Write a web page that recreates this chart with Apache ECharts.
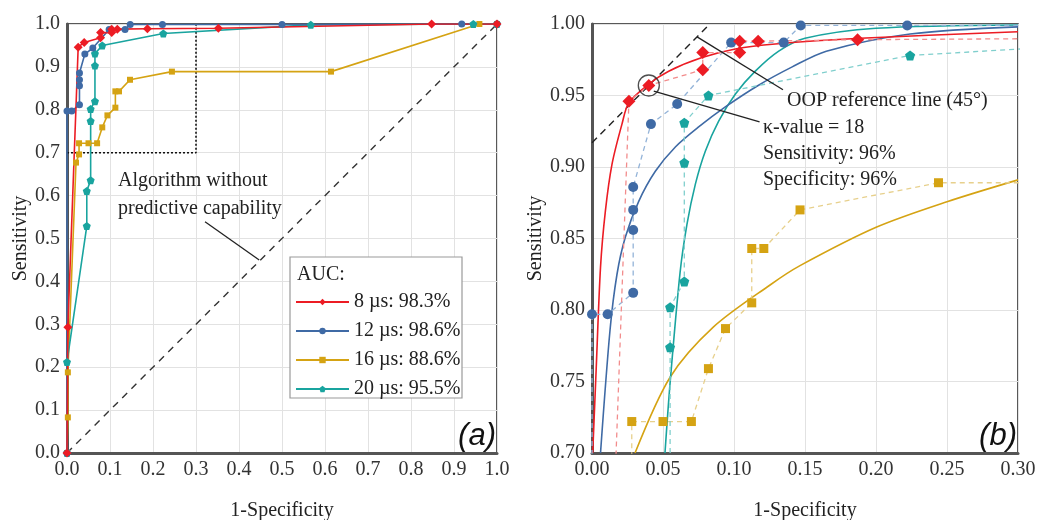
<!DOCTYPE html>
<html>
<head>
<meta charset="utf-8">
<script src="https://cdn.jsdelivr.net/npm/echarts@6/dist/echarts.min.js"></script>
<style>
html, body { margin: 0; padding: 0; background: #fff; }
#main { width: 1038px; height: 520px; }
</style>
</head>
<body>
<div id="main"></div>
<script>
// ROC points: [1-specificity, sensitivity]
const names = ['8 µs: 98.3%', '12 µs: 98.6%', '16 µs: 88.6%', '20 µs: 95.5%'];
const roc8 = [[0, 0], [0.002, 0.293], [0.026, 0.946], [0.040, 0.957], [0.078, 0.968], [0.078, 0.980],
  [0.104, 0.980], [0.104, 0.988], [0.117, 0.988], [0.187, 0.989], [0.352, 0.990], [0.848, 1.0], [1, 1]];
const roc12 = [[0, 0], [0, 0.797], [0.011, 0.797], [0.029, 0.812], [0.029, 0.856], [0.029, 0.870],
  [0.029, 0.886], [0.0415, 0.930], [0.060, 0.944], [0.098, 0.987], [0.135, 0.987], [0.147, 0.999],
  [0.222, 0.999], [0.50, 0.999], [0.918, 1.0], [1, 1]];
const roc16 = [[0, 0], [0.002, 0.083], [0.002, 0.188], [0.021, 0.677], [0.028, 0.696], [0.028, 0.722],
  [0.050, 0.722], [0.070, 0.722], [0.082, 0.759], [0.094, 0.787], [0.1125, 0.805], [0.1125, 0.843],
  [0.121, 0.843], [0.1465, 0.870], [0.244, 0.889], [0.614, 0.889], [0.959, 1.0], [1, 1]];
const roc20 = [[0, 0], [0, 0.212], [0.046, 0.529], [0.046, 0.611], [0.055, 0.636], [0.055, 0.774],
  [0.055, 0.802], [0.065, 0.820], [0.065, 0.903], [0.065, 0.931], [0.082, 0.950], [0.224, 0.978],
  [0.567, 0.998], [0.945, 1.0], [1, 1]];

// fitted curves of panel (b)
const fit8 = [[0.0005, 0.70], [0.003, 0.76], [0.006, 0.83], [0.0094, 0.869], [0.0141, 0.902],
  [0.0211, 0.930], [0.026, 0.945], [0.040, 0.958], [0.054, 0.967], [0.0775, 0.9765], [0.101, 0.9825],
  [0.129, 0.986], [0.189, 0.990], [0.30, 0.9946]];
const fit12 = [[0.006, 0.70], [0.0127, 0.786], [0.0176, 0.825], [0.0235, 0.851], [0.0329, 0.876],
  [0.0446, 0.897], [0.0587, 0.914], [0.0751, 0.928], [0.0939, 0.942], [0.117, 0.957], [0.141, 0.970],
  [0.165, 0.981], [0.224, 0.993], [0.30, 0.998]];
const fit16 = [[0.0303, 0.70], [0.055, 0.753], [0.0854, 0.788], [0.1254, 0.8175], [0.1465, 0.831],
  [0.2005, 0.858], [0.25, 0.8757], [0.30, 0.891]];
const fit20 = [[0.0514, 0.70], [0.055, 0.749], [0.062, 0.826], [0.0669, 0.860], [0.0728, 0.888],
  [0.0798, 0.911], [0.0892, 0.932], [0.101, 0.951], [0.115, 0.967], [0.1315, 0.981], [0.150, 0.990],
  [0.20, 0.997], [0.30, 0.9993]];

// reference lines and annotation pointers
const diagonal = [[0, 0], [1, 1]];
const zoomBox = [[0, 0.7], [0.3, 0.7], [0.3, 1]];
const oopLine = [[0, 0.917], [0.083, 1]];
const kappaPoint = [[0.040, 0.957]];
const leaderA = [[0.321, 0.539], [0.447, 0.450]];
const leaderKappa = [[0.0435, 0.953], [0.118, 0.9315]];
const leaderOop = [[0.074, 0.991], [0.1345, 0.954]];

const SERIF = 'Liberation Serif';
const colors = ['#ec1c24', '#3f6aa5', '#d5a313', '#19a49f'];
const lightColors = ['#f28c8c', '#93b3d8', '#e7d08c', '#80cfcd'];
const pentagon = 'path://M0,-10L9.51,-3.09L5.88,8.09L-5.88,8.09L-9.51,-3.09Z';
const symbols = ['diamond', 'circle', 'rect', pentagon];
const sizeA = [9, 7, 6, 8];
const sizeB = [13, 10, 9, 10];
const rocs = [roc8, roc12, roc16, roc20];
const fits = [fit8, fit12, fit16, fit20];

function axisCommon(fmtDigits) {
  return {
    type: 'value',
    axisLabel: { formatter: v => v.toFixed(fmtDigits), fontFamily: SERIF, fontSize: 20, color: '#333', margin: 7 },
    axisLine: { onZero: false, lineStyle: { color: '#555', width: 3 } },
    axisTick: { show: false },
    splitLine: { lineStyle: { color: '#e2e2e2', width: 1 } },
    nameLocation: 'middle',
    nameTextStyle: { fontFamily: SERIF, fontSize: 20, color: '#222' }
  };
}

const series = [];
const simpleLine = (data, xi, style, z) => ({
  type: 'line', xAxisIndex: xi, yAxisIndex: xi, data: data, showSymbol: false,
  lineStyle: style, silent: true, z: z || 2
});
series.push(simpleLine(diagonal, 0, { color: '#333', width: 1.4, type: [7, 6] }));
series.push(simpleLine(zoomBox, 0, { color: '#111', width: 1.6, type: [2, 2] }));
series.push(simpleLine(leaderA, 0, { color: '#222', width: 1.3 }));

// draw order: yellow, teal, blue, red on top
[2, 3, 1, 0].forEach(i => {
  series.push({
    type: 'line', name: names[i], xAxisIndex: 0, yAxisIndex: 0, data: rocs[i],
    symbol: symbols[i], symbolSize: sizeA[i], showAllSymbol: true,
    lineStyle: { color: colors[i], width: 1.6 }, itemStyle: { color: colors[i] }
  });
});

series.push(simpleLine(oopLine, 1, { color: '#222', width: 1.4, type: [7, 5] }));
[2, 3, 1, 0].forEach(i => {
  series.push({
    type: 'line', name: names[i] + ' fit', xAxisIndex: 1, yAxisIndex: 1, data: fits[i],
    smooth: 0.3, showSymbol: false, clip: true,
    lineStyle: { color: colors[i], width: 1.6 }
  });
});
[2, 3, 1, 0].forEach(i => {
  series.push({
    type: 'line', name: names[i] + ' (b)', xAxisIndex: 1, yAxisIndex: 1, data: rocs[i],
    symbol: symbols[i], symbolSize: sizeB[i], showAllSymbol: true, clip: true,
    lineStyle: { color: lightColors[i], width: 1.3, type: [5, 4] }, itemStyle: { color: colors[i] },
    z: 3
  });
});
series.push(simpleLine(leaderKappa, 1, { color: '#222', width: 1.3 }, 4));
series.push(simpleLine(leaderOop, 1, { color: '#222', width: 1.3 }, 4));
series.push({
  type: 'scatter', xAxisIndex: 1, yAxisIndex: 1, data: kappaPoint, symbolSize: 21, silent: true, z: 5,
  itemStyle: { color: 'rgba(0,0,0,0)', borderColor: '#222', borderWidth: 1.3 }
});

const txt = (x, y, text, extra) => Object.assign({
  type: 'text', x: x, y: y, z: 10,
  style: { text: text, fontFamily: SERIF, fontSize: 20, fill: '#222', verticalAlign: 'middle' }
}, extra || {});

const option = {
  animation: false,
  backgroundColor: '#fff',
  grid: [
    { left: 67, top: 24, width: 430, height: 429, show: true, borderColor: '#222', borderWidth: 1.5, outerBoundsMode: 'none' },
    { left: 592, top: 24, width: 426, height: 429, show: true, borderColor: '#222', borderWidth: 1.5, outerBoundsMode: 'none' }
  ],
  xAxis: [
    Object.assign(axisCommon(1), { gridIndex: 0, min: 0, max: 1, interval: 0.1, name: '1-Specificity', nameGap: 48 }),
    Object.assign(axisCommon(2), { gridIndex: 1, min: 0, max: 0.3, interval: 0.05, name: '1-Specificity', nameGap: 48 })
  ],
  yAxis: [
    Object.assign(axisCommon(1), { gridIndex: 0, min: 0, max: 1, interval: 0.1, name: 'Sensitivity', nameGap: 36 }),
    Object.assign(axisCommon(2), { gridIndex: 1, min: 0.7, max: 1, interval: 0.05, name: 'Sensitivity', nameGap: 45 })
  ],
  legend: {
    data: names, left: 295, top: 292, orient: 'vertical', padding: 0,
    itemWidth: 53, itemHeight: 8, itemGap: 9,
    textStyle: { fontFamily: SERIF, fontSize: 20, color: '#222' }
  },
  graphic: [
    { type: 'rect', shape: { x: 290, y: 257, width: 172, height: 141 }, z: 3,
      style: { fill: '#fff', stroke: '#9a9a9a', lineWidth: 1.2 } },
    txt(297, 275, 'AUC:'),
    txt(118, 181, 'Algorithm without'),
    txt(118, 209, 'predictive capability'),
    txt(787, 101, 'OOP reference line (45°)'),
    txt(763, 128, 'κ-value = 18'),
    txt(763, 154, 'Sensitivity: 96%'),
    txt(763, 180, 'Specificity: 96%'),
    { type: 'text', x: 496, y: 452, z: 10,
      style: { text: '(a)', font: 'italic 31px "Liberation Sans"', fill: '#111', align: 'right', verticalAlign: 'bottom' } },
    { type: 'text', x: 1017, y: 452, z: 10,
      style: { text: '(b)', font: 'italic 31px "Liberation Sans"', fill: '#111', align: 'right', verticalAlign: 'bottom' } }
  ],
  series: series
};

const chart = echarts.init(document.getElementById('main'));
chart.setOption(option);
</script>
</body>
</html>
